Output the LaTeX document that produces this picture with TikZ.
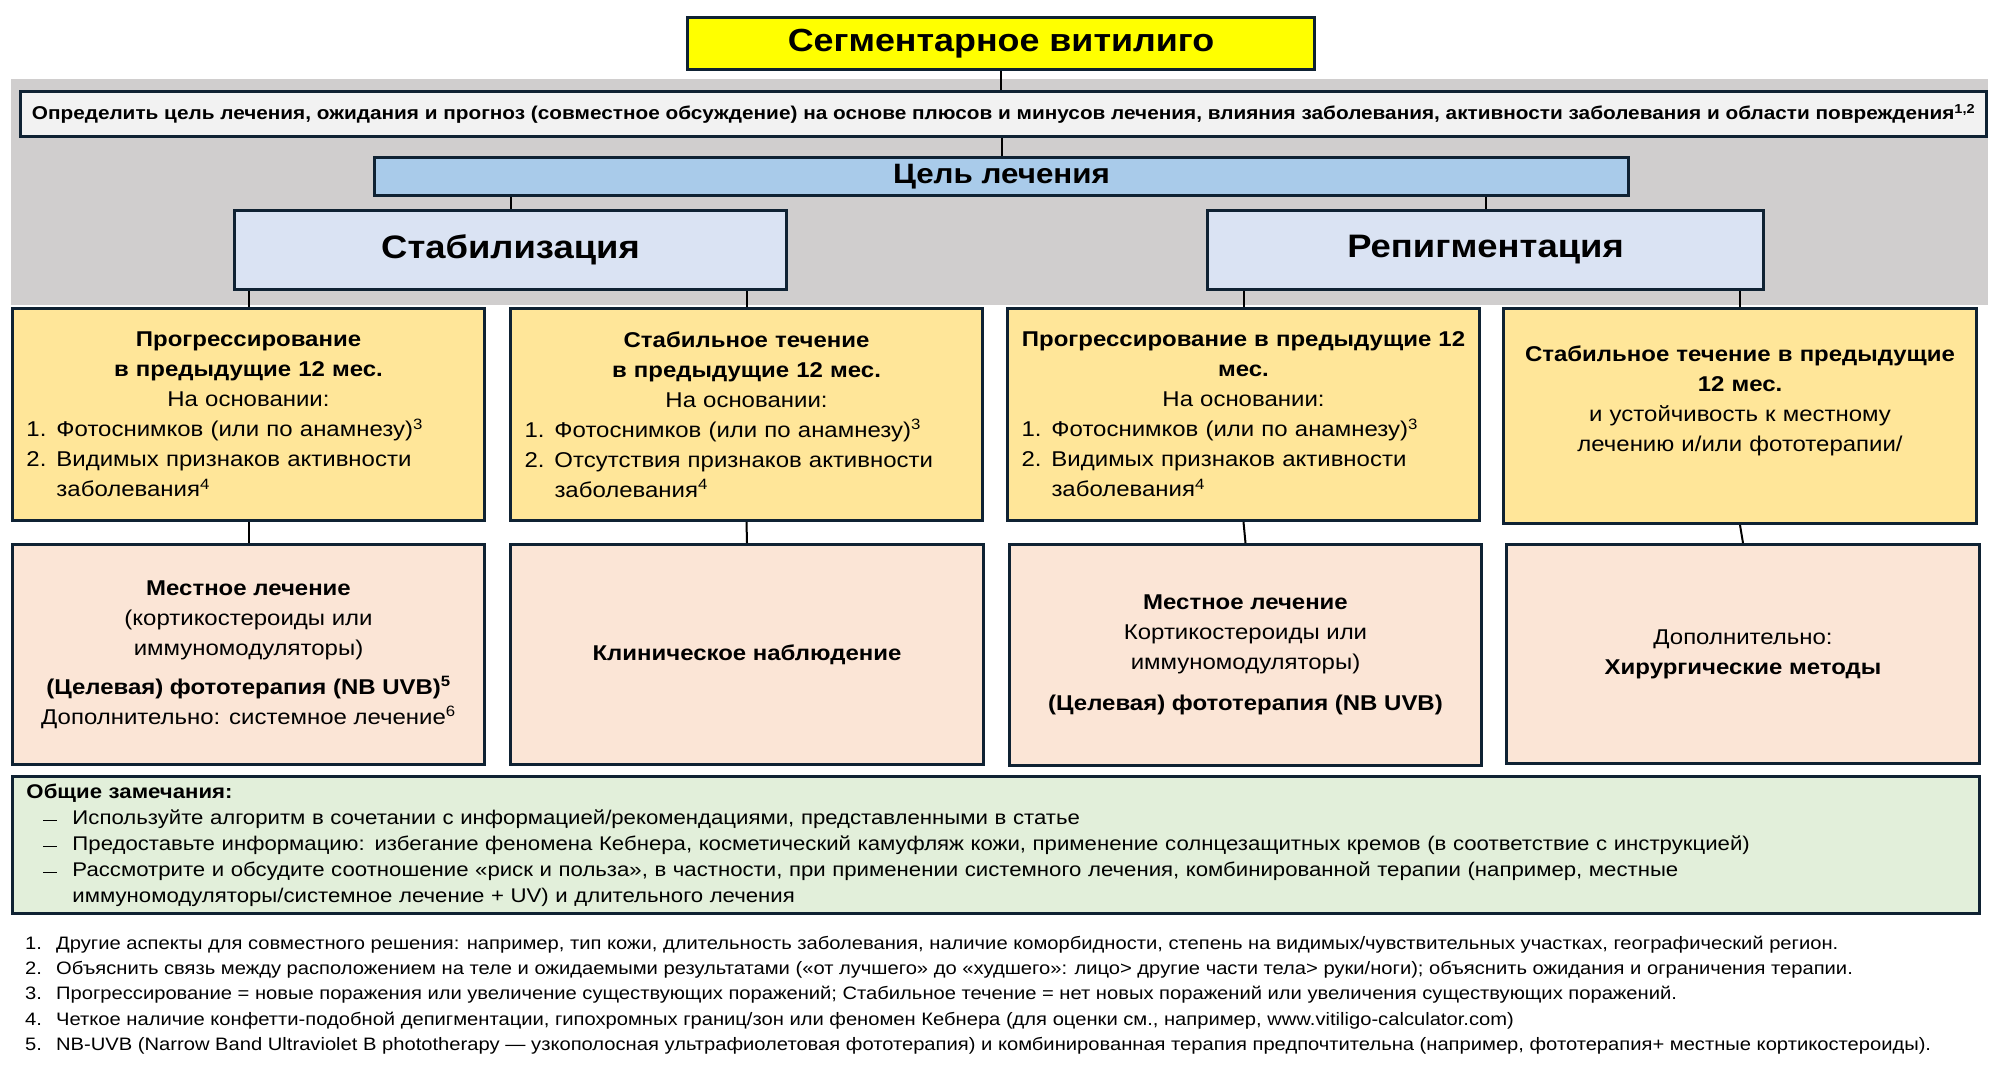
\documentclass[tikz,border=0pt]{standalone}
\usepackage{fontspec}
\setmainfont{Liberation Sans}[FakeStretch=1.12]
\usetikzlibrary{calc}
\definecolor{bcol}{HTML}{0F2233}
\definecolor{bandgray}{HTML}{D0CECE}
\definecolor{goalfill}{HTML}{F2F2F2}
\definecolor{aimfill}{HTML}{A9CBEA}
\definecolor{stabfill}{HTML}{DAE3F3}
\definecolor{yelfill}{HTML}{FFE699}
\definecolor{pinkfill}{HTML}{FBE5D6}
\definecolor{greenfill}{HTML}{E2EFDA}
\definecolor{titlefill}{HTML}{FFFF00}
\newcommand\fs[2]{\fontsize{#1}{#2}\selectfont}
\newcommand\litem[2]{\makebox[444pt][l]{\makebox[30pt][l]{#1}#2}}
\newcommand\gitem[1]{\makebox[1939pt][l]{\makebox[46pt][l]{\hspace{17pt}\rule[3pt]{14pt}{1.5pt}}#1}}
\newcommand\gcont[1]{\makebox[1939pt][l]{\makebox[46pt][l]{}#1}}
\begin{document}
\begin{tikzpicture}[x=1pt,y=-1pt,
  box/.style={draw=bcol, line width=3pt, inner sep=0pt, align=center, anchor=north west},
  conn/.style={draw=black, line width=2pt}]
\useasboundingbox (0,0) rectangle (1992,1065);
\fill[white] (0,0) rectangle (1992,1065);
\fill[bandgray] (11,79) rectangle (1988,305);

\node[box, fill=titlefill, minimum width=627pt, minimum height=52pt, font=\fs{32}{36}\bfseries] (title) at (686,16)
  {Сегментарное витилиго};
\node[box, fill=goalfill, minimum width=1966pt, minimum height=45pt, font=\fs{18.55}{24}\bfseries] (goal) at (19,90)
  {Определить цель лечения, ожидания и прогноз (совместное обсуждение) на основе плюсов и минусов лечения, влияния заболевания, активности заболевания и области повреждения\textsuperscript{1,2}};
\node[box, fill=aimfill, minimum width=1254pt, minimum height=38pt, font=\fs{28}{32}\bfseries] (aim) at (373,156)
  {Цель лечения};
\node[box, fill=stabfill, minimum width=552pt, minimum height=79pt, font=\fs{32.5}{38}\bfseries] (stab) at (233,209)
  {Стабилизация};
\node[box, fill=stabfill, minimum width=556pt, minimum height=79pt, font=\fs{32.5}{38}\bfseries] (rep) at (1206,209)
  {Репигментация};

\tikzset{ybox/.style={box, fill=yelfill, minimum width=472pt, minimum height=212pt, text width=444pt, font=\fs{21.4}{30}},
  pbox/.style={box, fill=pinkfill, minimum width=472pt, minimum height=220pt, font=\fs{21.4}{30}}}
\node[ybox] (y1) at (11,307)
  {\textbf{Прогрессирование}\\\textbf{в предыдущие 12 мес.}\\На основании:\\
   \litem{1.}{Фотоснимков (или по анамнезу)\textsuperscript{3}}\\
   \litem{2.}{Видимых признаков активности}\\
   \litem{}{заболевания\textsuperscript{4}}};
\node[ybox] (y2) at (509,307)
  {\textbf{Стабильное течение}\\\textbf{в предыдущие 12 мес.}\\На основании:\\
   \litem{1.}{Фотоснимков (или по анамнезу)\textsuperscript{3}}\\
   \litem{2.}{Отсутствия признаков активности}\\
   \litem{}{заболевания\textsuperscript{4}}};
\node[ybox] (y3) at (1006,307)
  {\textbf{Прогрессирование в предыдущие 12}\\\textbf{мес.}\\На основании:\\
   \litem{1.}{Фотоснимков (или по анамнезу)\textsuperscript{3}}\\
   \litem{2.}{Видимых признаков активности}\\
   \litem{}{заболевания\textsuperscript{4}}};
\node[ybox, minimum width=473pt, minimum height=215pt] (y4) at (1502,307)
  {\textbf{Стабильное течение в предыдущие}\\\textbf{12 мес.}\\и устойчивость к местному\\лечению и/или фототерапии/\\[4pt]\mbox{}};

\node[pbox] (p1) at (11,543)
  {\textbf{Местное лечение}\\(кортикостероиды или\\иммуномодуляторы)\\[9pt]
   \textbf{(Целевая) фототерапия (NB UVB)\textsuperscript{5}}\\Дополнительно: системное лечение\textsuperscript{6}};
\node[pbox, minimum width=473pt] (p2) at (509,543)
  {\textbf{Клиническое наблюдение}};
\node[pbox, minimum height=221pt] (p3) at (1008,543)
  {\textbf{Местное лечение}\\Кортикостероиды или\\иммуномодуляторы)\\[11pt]
   \textbf{(Целевая) фототерапия (NB UVB)}};
\node[pbox, minimum width=473pt, minimum height=219pt] (p4) at (1505,543)
  {Дополнительно:\\\textbf{Хирургические методы}};

\node[box, fill=greenfill, minimum width=1967pt, minimum height=137pt, text width=1939pt, align=left, font=\fs{19.8}{26}] (notes) at (11,775)
  {\textbf{Общие замечания:}\\
   \gitem{Используйте алгоритм в сочетании с информацией/рекомендациями, представленными в статье}\\
   \gitem{Предоставьте информацию: избегание феномена Кебнера, косметический камуфляж кожи, применение солнцезащитных кремов (в соответствие с инструкцией)}\\
   \gitem{Рассмотрите и обсудите соотношение «риск и польза», в частности, при применении системного лечения, комбинированной терапии (например, местные}\\
   \gcont{иммуномодуляторы/системное лечение + UV) и длительного лечения}};

\node[anchor=north west, inner sep=0pt, align=left, font=\fs{18}{25.2}] (foot) at (25,936)
  {\makebox[31pt][l]{1.}Другие аспекты для совместного решения: например, тип кожи, длительность заболевания, наличие коморбидности, степень на видимых/чувствительных участках, географический регион.\\
   \makebox[31pt][l]{2.}Объяснить связь между расположением на теле и ожидаемыми результатами («от лучшего» до «худшего»: лицо> другие части тела> руки/ноги); объяснить ожидания и ограничения терапии.\\
   \makebox[31pt][l]{3.}Прогрессирование = новые поражения или увеличение существующих поражений; Стабильное течение = нет новых поражений или увеличения существующих поражений.\\
   \makebox[31pt][l]{4.}Четкое наличие конфетти-подобной депигментации, гипохромных границ/зон или феномен Кебнера (для оценки см., например, www.vitiligo-calculator.com)\\
   \makebox[31pt][l]{5.}NB-UVB (Narrow Band Ultraviolet B phototherapy — узкополосная ультрафиолетовая фототерапия) и комбинированная терапия предпочтительна (например, фототерапия+ местные кортикостероиды).};

\draw[conn] (title.south) -- (title.south |- goal.north);
\draw[conn] (aim.north |- goal.south) -- (aim.north);
\draw[conn] (stab.north |- aim.south) -- (stab.north);
\draw[conn] (rep.north |- aim.south) -- (rep.north);
\draw[conn] (y1.north |- stab.south) -- (y1.north);
\draw[conn] (y2.north |- stab.south) -- (y2.north);
\draw[conn] (y3.north |- rep.south) -- (y3.north);
\draw[conn] (y4.north |- rep.south) -- (y4.north);
\draw[conn] (y1.south) -- (p1.north);
\draw[conn] (y2.south) -- (p2.north);
\draw[conn] (y3.south) -- (p3.north);
\draw[conn] (y4.south) -- (p4.north);
\end{tikzpicture}
\end{document}
